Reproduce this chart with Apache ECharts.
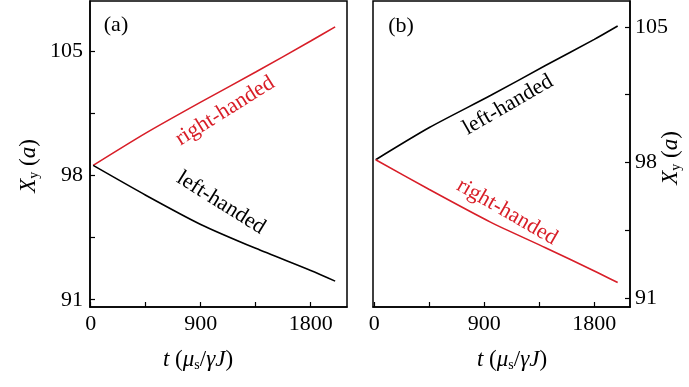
<!DOCTYPE html>
<html>
<head>
<meta charset="utf-8">
<script src="https://cdn.jsdelivr.net/npm/echarts@6/dist/echarts.min.js"></script>
<style>
  html, body { margin: 0; padding: 0; background: #fff; }
  #chart { width: 689px; height: 387px; }
</style>
</head>
<body>
<div id="chart"></div>
<script>
"use strict";

// panel (a)
const tA = [20, 450, 900, 1350, 1800, 2000];
const rightA = [98.58, 100.4, 102.15, 103.85, 105.6, 106.4];
const leftA = [98.58, 96.9, 95.25, 93.9, 92.65, 92.05];
// panel (b)
const tB = [11, 450, 950, 1400, 1800, 1991];
const leftB = [98.14, 99.8, 101.45, 103.0, 104.35, 105.04];
const rightB = [98.14, 96.6, 94.92, 93.6, 92.4, 91.8];

const xTicks = [0, 450, 900, 1350, 1800];
const xLabels = [0, 900, 1800];
const yTicks = [91, 94.5, 98, 101.5, 105];
const yLabels = [91, 98, 105];

const FONT = "'Liberation Serif', 'DejaVu Serif', serif";
const RED = "#d81e28";

const myChart = echarts.init(document.getElementById("chart"));

function pairs(t, v){
	return t.map((x, i) => [x, v[i]]);
}

function xAxis(idx, min, max){
	return {
		type: "value", gridIndex: idx, min: min, max: max,
		axisLine: {lineStyle: {color: "#000", width: 1.5}},
		axisTick: {inside: true, length: 5, customValues: xTicks, lineStyle: {color: "#000", width: 1.2}},
		axisLabel: {customValues: xLabels, formatter: (v) => String(v), margin: 6, color: "#000", fontFamily: FONT, fontSize: 22},
		splitLine: {show: false}
	};
}
function yAxis(idx, min, max, pos){
	return {
		type: "value", gridIndex: idx, min: min, max: max, position: pos,
		axisLine: {onZero: false, lineStyle: {color: "#000", width: 1.5}},
		axisTick: {inside: true, length: 5, customValues: yTicks, lineStyle: {color: "#000", width: 1.2}},
		axisLabel: {customValues: yLabels, formatter: (v) => String(v), margin: pos === "left" ? 7 : 5, color: "#000", fontFamily: FONT, fontSize: 22},
		splitLine: {show: false}
	};
}
function line(idx, data, color){
	return {
		type: "line", xAxisIndex: idx, yAxisIndex: idx, data: data,
		showSymbol: false, smooth: 0.25,
		lineStyle: {color: color, width: 1.6}, silent: true
	};
}

const rich = {
	i: {fontFamily: FONT, fontStyle: "italic", fontSize: 23, lineHeight: 24, fill: "#000"},
	n: {fontFamily: FONT, fontSize: 23, lineHeight: 24, fill: "#000"},
	s: {fontFamily: FONT, fontSize: 14, lineHeight: 6, verticalAlign: "bottom", fill: "#000"}
};
function label(text, x, y, rot, color){
	return {
		type: "text", x: x, y: y, rotation: rot * Math.PI / 180, silent: true,
		style: {text: text, align: "center", verticalAlign: "middle", fill: color,
			font: "22px " + FONT}
	};
}
function name(text, x, y, rot){
	return {
		type: "text", x: x, y: y, rotation: rot * Math.PI / 180, silent: true,
		style: {text: text, rich: rich, align: "center", verticalAlign: "middle"}
	};
}

const option = {
	animation: false,
	grid: [
		{left: 90, right: 342, top: 1, bottom: 80, show: true, borderColor: "#000", borderWidth: 1.5},
		{left: 373, right: 59, top: 1, bottom: 80, show: true, borderColor: "#000", borderWidth: 1.5}
	],
	xAxis: [xAxis(0, -6, 2097), xAxis(1, -11, 2092)],
	yAxis: [yAxis(0, 90.59, 107.86, "left"), yAxis(1, 90.54, 106.33, "right")],
	series: [
		line(0, pairs(tA, rightA), RED),
		line(0, pairs(tA, leftA), "#000"),
		line(1, pairs(tB, leftB), "#000"),
		line(1, pairs(tB, rightB), RED)
	],
	graphic: [
		label("(a)", 116, 25, 0, "#000"),
		label("(b)", 401, 26, 0, "#000"),
		label("right-handed", 225, 111, 32, RED),
		label("left-handed", 221, 203, -32, "#000"),
		label("left-handed", 508, 105, 30, "#000"),
		label("right-handed", 507, 212, -30, RED),
		name("{i|X}{s|y}{n| (}{i|a}{n|)}", 29, 166, 90),
		name("{i|X}{s|y}{n| (}{i|a}{n|)}", 671, 158, 90),
		name("{i|t}{n| (}{i|μ}{s|s}{n|/}{i|γJ}{n|)}", 198, 360, 0),
		name("{i|t}{n| (}{i|μ}{s|s}{n|/}{i|γJ}{n|)}", 512, 360, 0)
	]
};

myChart.setOption(option);
</script>
</body>
</html>
